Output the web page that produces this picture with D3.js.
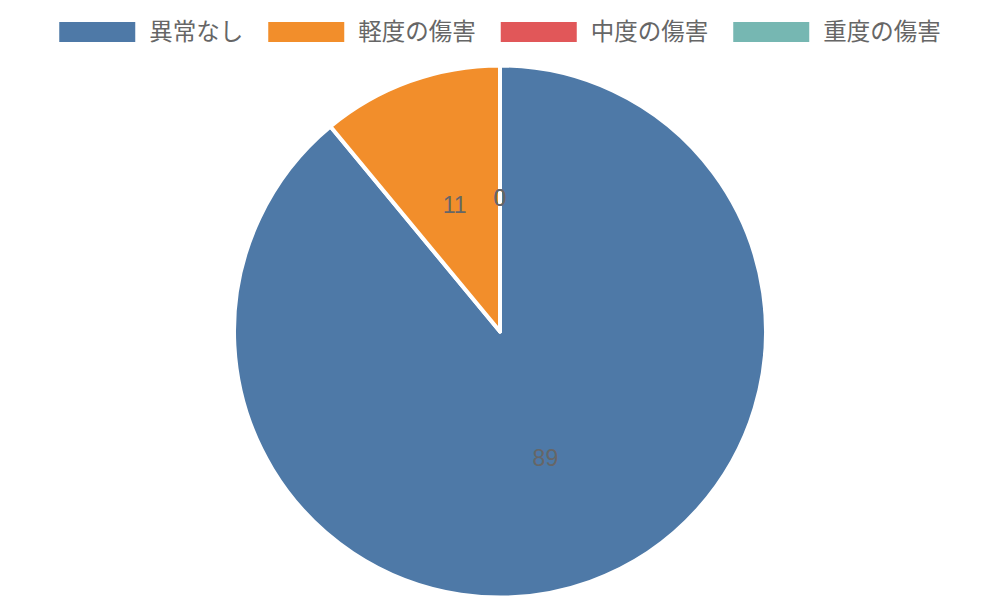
<!DOCTYPE html>
<html>
<head>
<meta charset="utf-8">
<script src="https://cdn.jsdelivr.net/npm/d3@7"></script>
<style>
  body { margin: 0; background: #fff; }
  svg { display: block; }
</style>
</head>
<body>
<div id="chart"></div>
<script>
// data
const categories = ["異常なし", "軽度の傷害", "中度の傷害", "重度の傷害"];
const values = [89, 11, 0, 0];
const colors = ["#4e79a7", "#f28e2b", "#e15759", "#76b7b2"];

const width = 1000, height = 600;
const font = "'Liberation Sans', 'Noto Sans CJK JP', sans-serif";

const svg = d3.select("#chart").append("svg")
    .attr("width", width)
    .attr("height", height);

// legend
const legend = svg.append("g");
const boxW = 76, boxH = 20, boxGap = 14, itemGap = 25;
let xPos = 0;
categories.forEach(function (c, i) {
    const item = legend.append("g").attr("transform", "translate(" + xPos + ",0)");
    item.append("rect")
        .attr("x", 0).attr("y", 22)
        .attr("width", boxW).attr("height", boxH)
        .attr("fill", colors[i]);
    const t = item.append("text")
        .attr("x", boxW + boxGap).attr("y", 32)
        .attr("dominant-baseline", "central")
        .style("font-family", font)
        .style("font-size", "23.5px")
        .attr("fill", "#666")
        .text(c);
    xPos += boxW + boxGap + t.node().getComputedTextLength() + itemGap;
});
const legendW = xPos - itemGap;
legend.attr("transform", "translate(" + ((width - legendW) / 2) + ",0)");

// pie (white stroke eats into the edge, so outer radius is a bit larger)
const cx = 500, cy = 331.5, radius = 266;
const pie = d3.pie().sort(null).value(function (d) { return d; });
const arcs = pie(values);
const arc = d3.arc().innerRadius(0).outerRadius(radius);
const labelArc = d3.arc().innerRadius(134).outerRadius(134);

const plot = svg.append("g").attr("transform", "translate(" + cx + "," + cy + ")");

plot.selectAll("path")
    .data(arcs)
    .enter().append("path")
    .attr("d", arc)
    .attr("fill", function (d, i) { return colors[i]; })
    .attr("stroke", "#fff")
    .attr("stroke-width", 4)
    .attr("stroke-linejoin", "round");

plot.selectAll("text.label")
    .data(arcs)
    .enter().append("text")
    .attr("class", "label")
    .attr("transform", function (d) {
        const p = labelArc.centroid(d);
        return "translate(" + p[0] + "," + p[1] + ")";
    })
    .attr("text-anchor", "middle")
    .attr("dominant-baseline", "central")
    .style("font-family", font)
    .style("font-size", "23px")
    .attr("fill", "#666")
    .text(function (d) { return d.data; });
</script>
</body>
</html>
